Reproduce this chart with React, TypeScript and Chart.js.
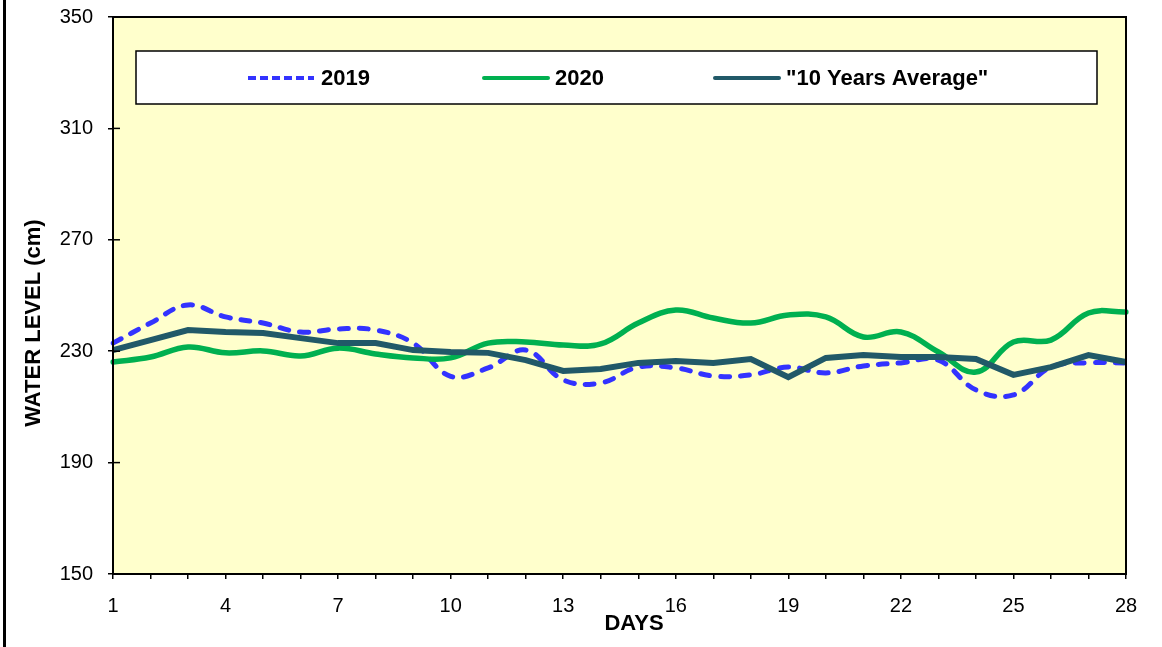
import React, { useEffect, useRef } from 'react';
import { Chart, registerables } from 'chart.js';

Chart.register(...registerables);

const days: string[] = ['1','2','3','4','5','6','7','8','9','10','11','12','13','14','15','16','17','18','19','20','21','22','23','24','25','26','27','28'];
const series2019: number[] = [232.9, 240.1, 246.6, 242.3, 240.1, 236.9, 238.0, 237.6, 232.9, 221.0, 224.0, 230.4, 219.7, 218.6, 224.3, 224.0, 221.1, 221.5, 224.3, 222.2, 224.7, 225.8, 226.8, 216.1, 214.3, 224.3, 225.8, 225.8];
const series2020: number[] = [226.1, 227.9, 231.5, 229.4, 230.1, 228.3, 231.1, 229.0, 227.6, 227.6, 232.9, 233.3, 232.2, 232.6, 240.1, 244.8, 241.9, 240.1, 243.0, 242.3, 235.1, 236.9, 229.7, 222.5, 233.3, 234.0, 243.7, 244.1];
const seriesAvg: number[] = [230.4, 234.0, 237.6, 236.9, 236.5, 234.7, 232.9, 232.9, 230.4, 229.7, 229.4, 226.8, 222.9, 223.6, 225.8, 226.5, 225.8, 227.2, 220.7, 227.6, 228.6, 227.9, 227.9, 227.2, 221.5, 224.3, 228.6, 226.1];
const seriesNames: string[] = ['2019', '2020', '"10 Years Average"'];
const yTickValues: number[] = [150, 190, 230, 270, 310, 350];
const xTitle = 'DAYS';
const yTitle = 'WATER LEVEL (cm)';

const FONT = '"Liberation Sans", Arial, sans-serif';
const BLUE = '#3333FF';
const GREEN = '#00B050';
const TEAL = '#215968';

const decorPlugin = {
  id: 'decor',
  beforeDraw(chart: any) {
    const { ctx, chartArea: a, width, height } = chart;
    ctx.save();
    ctx.fillStyle = '#ffffff';
    ctx.fillRect(0, 0, width, height);
    ctx.fillStyle = '#FFFFCC';
    ctx.fillRect(a.left, a.top, a.right - a.left, a.bottom - a.top);
    ctx.fillStyle = '#000000';
    ctx.fillRect(3, 0, 3, height);
    ctx.restore();
  },
  afterDatasetsDraw(chart: any) {
    const { ctx, chartArea: a } = chart;
    ctx.save();
    ctx.strokeStyle = '#000000';
    ctx.lineWidth = 2;
    ctx.strokeRect(a.left, a.top, a.right - a.left, a.bottom - a.top);
    ctx.lineWidth = 1.5;
    const ys = chart.scales.y;
    yTickValues.forEach((v) => {
      const py = ys.getPixelForValue(v);
      ctx.beginPath();
      ctx.moveTo(a.left, py);
      ctx.lineTo(a.left + 7, py);
      ctx.stroke();
    });
    const bx = a.left + 23;
    const by = a.top + 34;
    const bw = a.right - 29 - bx;
    const bh = 53;
    ctx.fillStyle = '#ffffff';
    ctx.fillRect(bx, by, bw, bh);
    ctx.strokeStyle = '#000000';
    ctx.lineWidth = 1.5;
    ctx.strokeRect(bx, by, bw, bh);
    const cy = by + bh / 2 + 0.5;
    const offsets = [112, 346, 577];
    const ds = chart.data.datasets;
    ds.forEach((d: any, i: number) => {
      const lx = bx + offsets[i];
      const dashed = d.borderDash && d.borderDash.length;
      ctx.save();
      ctx.strokeStyle = d.borderColor;
      ctx.lineWidth = 4;
      if (dashed) {
        ctx.setLineDash([8, 4]);
        ctx.lineCap = 'butt';
      } else {
        ctx.setLineDash([]);
        ctx.lineCap = 'round';
      }
      ctx.beginPath();
      ctx.moveTo(lx + (dashed ? 0 : 2), cy);
      ctx.lineTo(lx + 66, cy);
      ctx.stroke();
      ctx.restore();
      ctx.fillStyle = '#000000';
      ctx.font = 'bold 22px ' + FONT;
      ctx.textAlign = 'left';
      ctx.textBaseline = 'middle';
      ctx.fillText(d.label, lx + 73, cy + 1);
    });
    ctx.restore();
  },
  afterDraw(chart: any) {
    const { ctx } = chart;
    ctx.save();
    ctx.fillStyle = '#000000';
    ctx.font = 'bold 22px ' + FONT;
    ctx.textAlign = 'center';
    ctx.textBaseline = 'middle';
    ctx.fillText(xTitle, 634, 624);
    ctx.translate(34, 323);
    ctx.rotate(-Math.PI / 2);
    ctx.fillText(yTitle, 0, 0);
    ctx.restore();
  },
};

export default function App() {
  const canvasRef = useRef<HTMLCanvasElement | null>(null);

  useEffect(() => {
    const canvas = canvasRef.current;
    if (!canvas) return;
    const chart = new Chart(canvas, {
      type: 'line',
      data: {
        labels: days,
        datasets: [
          {
            label: seriesNames[0],
            data: series2019,
            borderColor: BLUE,
            backgroundColor: BLUE,
            borderWidth: 5,
            borderDash: [9, 11],
            borderCapStyle: 'round',
            tension: 0.4,
            pointRadius: 0,
            fill: false,
            order: 3,
          },
          {
            label: seriesNames[1],
            data: series2020,
            borderColor: GREEN,
            backgroundColor: GREEN,
            borderWidth: 5.5,
            borderCapStyle: 'round',
            borderJoinStyle: 'round',
            tension: 0.4,
            pointRadius: 0,
            fill: false,
            order: 2,
          },
          {
            label: seriesNames[2],
            data: seriesAvg,
            borderColor: TEAL,
            backgroundColor: TEAL,
            borderWidth: 6,
            borderJoinStyle: 'miter',
            tension: 0,
            pointRadius: 0,
            fill: false,
            order: 1,
          },
        ],
      },
      options: {
        responsive: false,
        animation: false,
        devicePixelRatio: 1,
        layout: { padding: { left: 0, top: 17, right: 36, bottom: 0 } },
        plugins: {
          legend: { display: false },
          tooltip: { enabled: false },
          title: { display: false },
        },
        scales: {
          x: {
            type: 'category',
            offset: false,
            border: { display: false },
            grid: {
              display: true,
              drawOnChartArea: false,
              drawTicks: true,
              tickLength: 5,
              color: '#000000',
              lineWidth: 1.5,
            },
            ticks: {
              autoSkip: false,
              maxRotation: 0,
              minRotation: 0,
              padding: 15,
              color: '#000000',
              font: { family: FONT, size: 20 },
              callback: (_v: any, i: number) => (i % 3 === 0 ? days[i] : ''),
            },
            afterFit: (scale: any) => {
              scale.height = 73;
              scale.paddingLeft = 0;
              scale.paddingRight = 0;
            },
          },
          y: {
            type: 'linear',
            min: 150,
            max: 350,
            border: { display: false },
            grid: {
              display: true,
              drawOnChartArea: false,
              drawTicks: true,
              tickLength: 5,
              color: '#000000',
              lineWidth: 1.5,
            },
            ticks: {
              padding: 15,
              color: '#000000',
              font: { family: FONT, size: 20 },
            },
            afterBuildTicks: (scale: any) => {
              scale.ticks = yTickValues.map((v) => ({ value: v }));
            },
            afterFit: (scale: any) => {
              scale.width = 113;
              scale.paddingTop = 0;
              scale.paddingBottom = 0;
            },
          },
        },
      },
      plugins: [decorPlugin],
    } as any);
    return () => chart.destroy();
  }, []);

  return (
    <div style={{ position: 'absolute', left: 0, top: 0, width: 1162, height: 647, background: '#ffffff' }}>
      <canvas ref={canvasRef} width={1162} height={647} style={{ display: 'block' }} />
    </div>
  );
}
